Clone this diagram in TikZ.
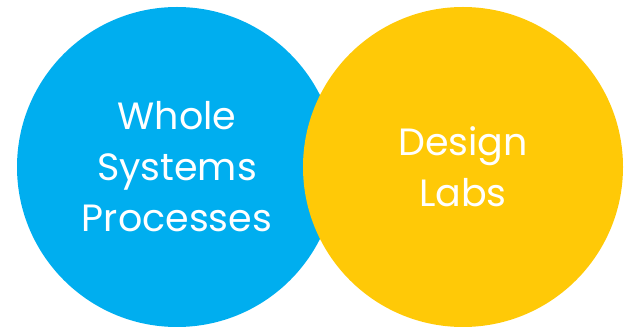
\documentclass[tikz,border=0pt]{standalone}
\usepackage{fontspec}
\setmainfont{Poppins}
\definecolor{skyblue}{HTML}{00AEEF}
\definecolor{sunyellow}{HTML}{FFC907}

\begin{document}
\begin{tikzpicture}[
	x=1pt, y=1pt,
	bubble/.style={circle, minimum size=320pt, inner sep=0pt, text=white,
		align=center, font=\fontsize{38}{51}\selectfont}]
\useasboundingbox (0,0) rectangle (624,329);
\node[bubble, fill=skyblue] (whole) at (177,162) {Whole\\Systems\\Processes};
\node[bubble, fill=sunyellow] (labs) at (463,162) {Design\\Labs};
\end{tikzpicture}
\end{document}
